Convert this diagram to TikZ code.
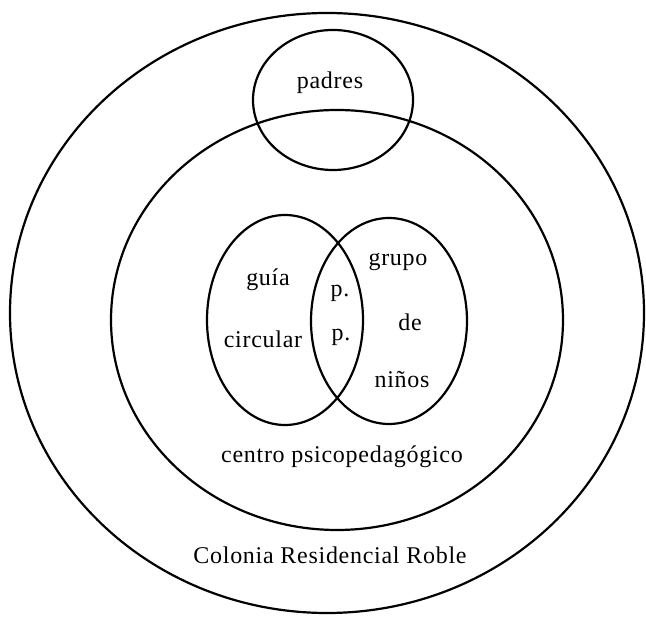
\documentclass[tikz,border=0pt]{standalone}
\usepackage{fontspec}
\setmainfont{Liberation Serif}[LetterSpace=3]
\tikzset{
  ring/.style={draw=black, line width=2.2pt},
  lbl/.style={font=\fontsize{24}{27}\selectfont, inner sep=0pt, anchor=center}
}
\begin{document}
\begin{tikzpicture}[x=1pt,y=-1pt]
\useasboundingbox (0,0) rectangle (646,617);
% ellipses
\draw[ring] (327,313) ellipse [x radius=317, y radius=300];
\draw[ring] (337,320) ellipse [x radius=226, y radius=210];
\draw[ring] (333,100) ellipse [x radius=80, y radius=70];
\draw[ring] (285,320) ellipse [x radius=78, y radius=105];
\draw[ring] (389,321) ellipse [x radius=78, y radius=103];
% labels
\node[lbl] (padres) at (330,83) {padres};
\node[lbl] (guia) at (268,280) {guía};
\node[lbl] (circ) at (263,339) {circular};
\node[lbl] (p1) at (340,293) {p.};
\node[lbl] (p2) at (341,337) {p.};
\node[lbl] (grupo) at (398,262) {grupo};
\node[lbl] (de) at (410,322) {de};
\node[lbl] (ninos) at (402,380) {niños};
\node[lbl] (centro) at (342,457) {centro psicopedagógico};
\node[lbl] (colonia) at (330,555) {Colonia Residencial Roble};
\end{tikzpicture}
\end{document}
